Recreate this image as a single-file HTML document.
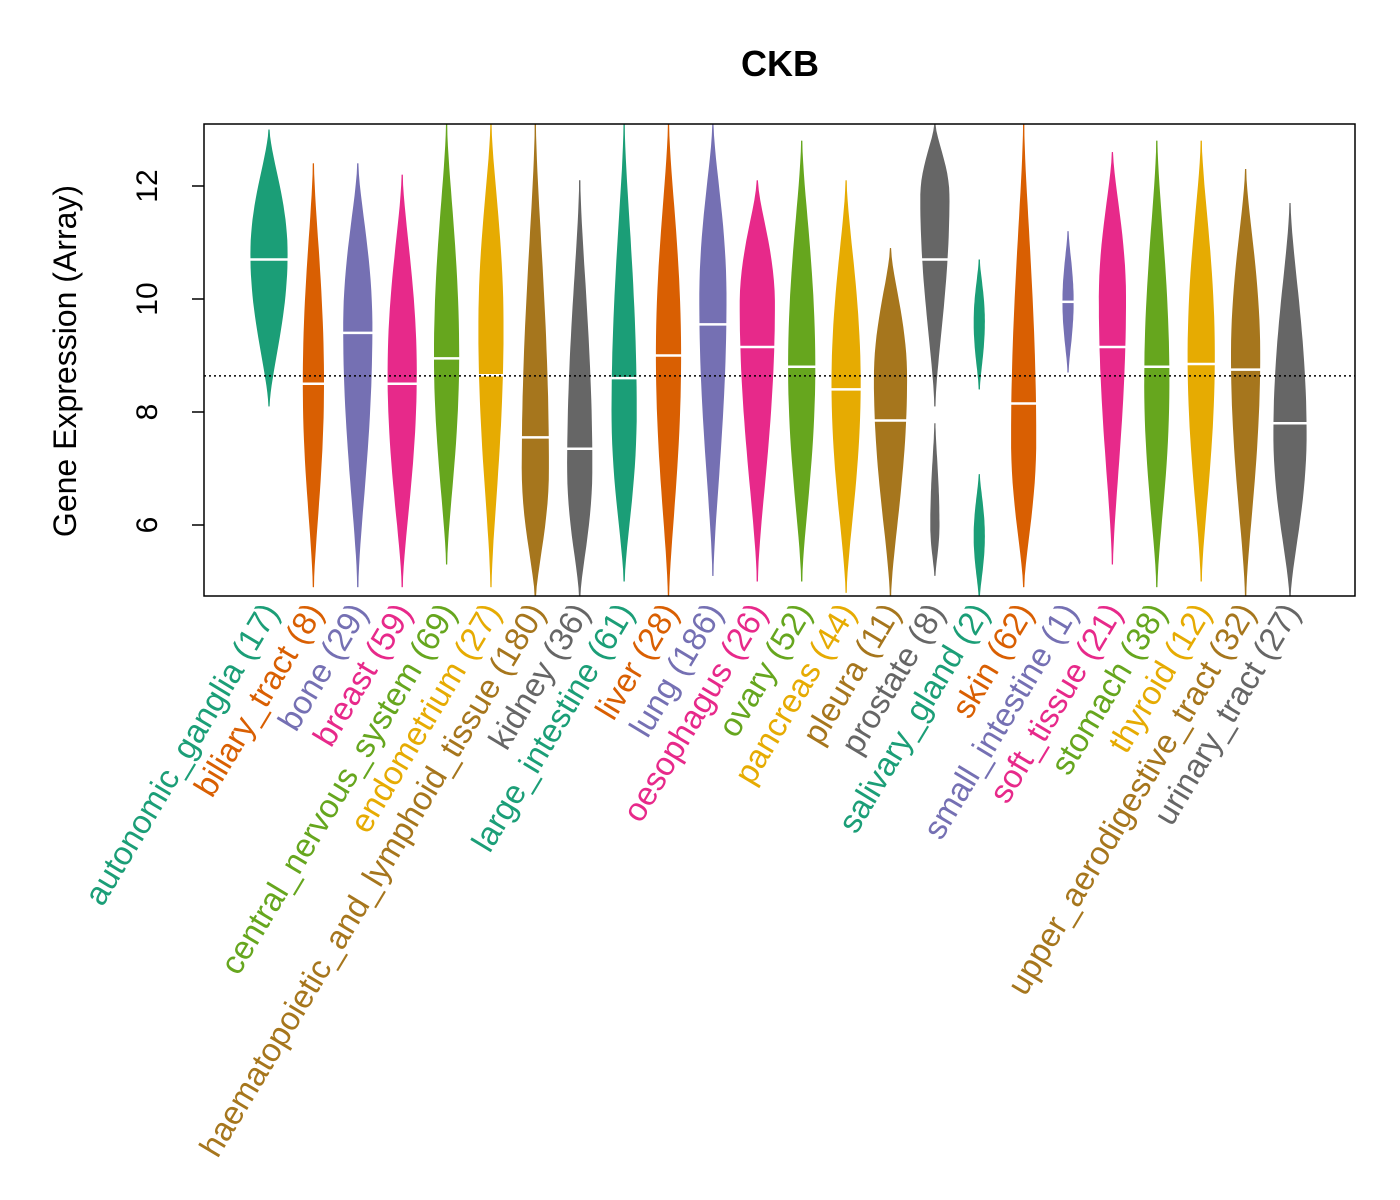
<!DOCTYPE html>
<html><head><meta charset="utf-8"><style>
body{margin:0;background:#fff}
svg{display:block;font-family:"Liberation Sans",Arial,sans-serif}
</style></head><body>
<svg id="chart" width="1400" height="1200"></svg>
<script>
const categories=["autonomic_ganglia","biliary_tract","bone","breast","central_nervous_system","endometrium","haematopoietic_and_lymphoid_tissue","kidney","large_intestine","liver","lung","oesophagus","ovary","pancreas","pleura","prostate","salivary_gland","skin","small_intestine","soft_tissue","stomach","thyroid","upper_aerodigestive_tract","urinary_tract"];
const counts=[17,8,29,59,69,27,180,36,61,28,186,26,52,44,11,8,2,62,1,21,38,12,32,27];
const mins=[8.1,4.9,4.9,4.9,5.3,4.9,4.7,4.7,5.0,4.7,5.1,5.0,5.0,4.8,4.7,8.1,8.4,4.9,8.7,5.3,4.9,5.0,4.7,4.7];
const maxs=[13.0,12.4,12.4,12.2,13.1,13.1,13.1,12.1,13.1,13.1,13.1,12.1,12.8,12.1,10.9,13.1,10.7,13.1,11.2,12.6,12.8,12.8,12.3,11.7];
const peaks=[10.8,8.5,9.5,8.7,9.0,9.5,7.0,7.0,8.0,9.0,10.0,9.9,8.8,8.5,8.6,11.8,9.6,7.5,9.95,10.0,8.5,9.0,9.0,7.6];
const widths=[18,10,14,14,12,12,13,12,12,12,13,17,13,14,16,14,5,12,5,13,12,13,14,16];
const medians=[10.7,8.5,9.4,8.5,8.95,8.65,7.55,7.35,8.6,9.0,9.55,9.15,8.8,8.4,7.85,10.7,null,8.15,9.95,9.15,8.8,8.85,8.75,7.8];
// secondary lower lobes: [categoryIndex, min, max, peak, width]
const lobes=[[15,5.1,7.8,6.0,4],[16,4.7,6.9,5.8,5]];
const yTicks=[6,8,10,12];
const overallMean=8.64;
const colors=["#1B9E77","#D95F02","#7570B3","#E7298A","#66A61E","#E6AB02","#A6761D","#666666"];
const NS="http://www.w3.org/2000/svg";
const svg=document.getElementById('chart');
const L=204,R=1355,T=124,B=596;
const y=v=>186+(12-v)*56.5;
const x=i=>269+i*(1290-269)/(categories.length-1);
function mk(t,a){const e=document.createElementNS(NS,t);for(const k in a)e.setAttribute(k,a[k]);return e;}
const clip=mk('clipPath',{id:'pc'});clip.appendChild(mk('rect',{x:L,y:T,width:R-L,height:B-T}));svg.appendChild(clip);
const g=mk('g',{'clip-path':'url(#pc)'});svg.appendChild(g);
function bean(cx,mn,mx,pk,w){
  const n=40;let left=[],right=[];
  for(let k=0;k<=n;k++){const v=mn+(mx-mn)*k/n;const s=v<pk?(pk-mn):(mx-pk);let t=s>0?(v-pk)/s:0;t=Math.min(1,Math.abs(t));const hw=w*Math.pow(1-t*t,1.6)+0.6;
    right.push([cx+hw,y(v)]);left.push([cx-hw,y(v)]);}
  const pts=right.concat(left.reverse());
  return 'M'+pts.map(p=>p[0].toFixed(1)+','+p[1].toFixed(1)).join('L')+'Z';
}
categories.forEach((c,i)=>{
  const col=colors[i%8];
  const ln=mk('line',{x1:x(i),x2:x(i),y1:y(mins[i]),y2:y(maxs[i]),stroke:col,'stroke-width':1});
  
  
  g.appendChild(ln);
  const p=mk('path',{d:bean(x(i),mins[i],maxs[i],peaks[i],widths[i]),fill:col});
  
  
  g.appendChild(p);
});
lobes.forEach(lb=>{const i=lb[0];
  const p=mk('path',{d:bean(x(i),lb[1],lb[2],lb[3],lb[4]),fill:colors[i%8]});
  
  
  g.appendChild(p);});
const ml=mk('line',{x1:L,x2:R,y1:y(overallMean),y2:y(overallMean),stroke:'#000','stroke-width':1.5,'stroke-dasharray':'2,3'});


svg.appendChild(ml);
categories.forEach((c,i)=>{if(medians[i]==null)return;
  const m=mk('line',{x1:x(i)-widths[i]-2,x2:x(i)+widths[i]+2,y1:y(medians[i]),y2:y(medians[i]),stroke:'#fff','stroke-width':2.5});
  
  
  g.appendChild(m);});
const fr=mk('rect',{x:L,y:T,width:R-L,height:B-T,fill:'none',stroke:'#000','stroke-width':1.5});


svg.appendChild(fr);
yTicks.forEach(v=>{
  const t=mk('line',{x1:L-12,x2:L,y1:y(v),y2:y(v),stroke:'#000','stroke-width':1.5});
  
  
  svg.appendChild(t);
  const tx=mk('text',{x:0,y:0,'font-size':30,'text-anchor':'middle',transform:`translate(157,${y(v)}) rotate(-90)`});
  tx.textContent=v;
  
  
  svg.appendChild(tx);
});
categories.forEach((c,i)=>{
  const t=mk('text',{'font-size':33,'text-anchor':'end',fill:colors[i%8],transform:`translate(${x(i)+11},${612}) rotate(-59)`});
  t.textContent=c+' ('+counts[i]+')';
  
  
  svg.appendChild(t);
});
const ti=mk('text',{x:780,y:76,'font-size':36,'font-weight':'bold','text-anchor':'middle'});ti.textContent='CKB';


svg.appendChild(ti);
const yt=mk('text',{'font-size':32,'text-anchor':'middle',transform:'translate(76,361) rotate(-90)'});yt.textContent='Gene Expression (Array)';


svg.appendChild(yt);
</script>
</body></html>
